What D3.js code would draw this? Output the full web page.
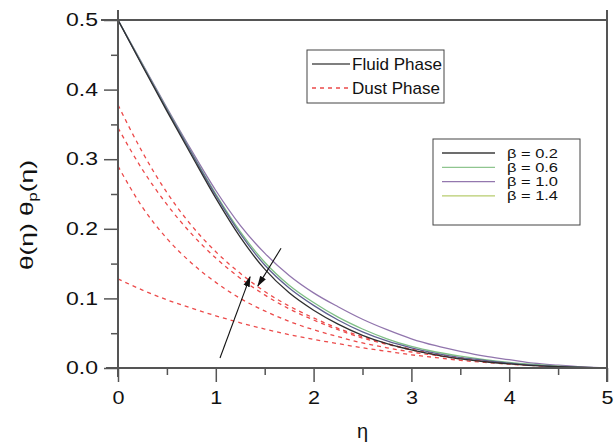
<!DOCTYPE html>
<html><head><meta charset="utf-8">
<script src="https://cdn.jsdelivr.net/npm/d3@7"></script>
<style>body{margin:0;background:#fff}svg{display:block;font-family:"Liberation Sans",Arial,sans-serif}</style>
</head><body>
<svg id="c" width="615" height="445"></svg>
<script>
const eta = [0,0.25,0.5,0.75,1,1.25,1.5,1.75,2,2.25,2.5,2.75,3,3.25,3.5,3.75,4,4.25,4.5,4.75,5];
// Fluid phase curves (solid)
const fluidTop   = [0.5,0.437,0.374,0.313,0.255,0.205,0.165,0.133,0.108,0.088,0.070,0.055,0.042,0.032,0.024,0.017,0.012,0.007,0.004,0.0015,0];
const fluidGreen = [0.5,0.436,0.372,0.310,0.250,0.196,0.152,0.119,0.094,0.073,0.056,0.042,0.031,0.023,0.017,0.012,0.008,0.005,0.0025,0.001,0];
const fluidSlate = [0.5,0.435,0.371,0.309,0.248,0.193,0.148,0.115,0.090,0.069,0.052,0.039,0.029,0.021,0.015,0.011,0.007,0.004,0.002,0.0009,0];
const fluidDark  = [0.5,0.434,0.369,0.306,0.244,0.188,0.142,0.108,0.083,0.063,0.047,0.035,0.026,0.019,0.013,0.009,0.006,0.0035,0.0018,0.0007,0];
// Dust phase curves (dashed)
const dustA = [0.378,0.310,0.252,0.205,0.167,0.136,0.110,0.089,0.072,0.057,0.045,0.035,0.027,0.020,0.015,0.010,0.007,0.004,0.002,0.0008,0];
const dustB = [0.345,0.285,0.235,0.193,0.158,0.129,0.105,0.085,0.069,0.055,0.043,0.034,0.026,0.019,0.014,0.010,0.007,0.004,0.002,0.0008,0];
const dustC = [0.290,0.231,0.186,0.151,0.123,0.100,0.082,0.067,0.055,0.045,0.036,0.029,0.023,0.018,0.013,0.0095,0.0065,0.004,0.0022,0.0009,0];
const dustD = [0.128,0.112,0.098,0.086,0.075,0.065,0.056,0.048,0.041,0.035,0.029,0.024,0.019,0.015,0.011,0.008,0.0055,0.0035,0.002,0.0008,0];

const xTicks = [0,1,2,3,4,5];
const yTicks = [0.0,0.1,0.2,0.3,0.4,0.5];
const betaLabels = ["β = 0.2","β = 0.6","β = 1.0","β = 1.4"];
const betaColors = ["#3c3c3c","#8fc58f","#9377ae","#b7cc6e"];
const phaseLabels = ["Fluid Phase","Dust Phase"];

const fluidSeries = [
  {v: fluidTop, c: "#9175ad"},
  {v: fluidGreen, c: "#7fbf86"},
  {v: fluidSlate, c: "#5e6290"},
  {v: fluidDark, c: "#2f2f2f"}
];
const dustSeries = [dustA, dustB, dustC, dustD];

const svg = d3.select("#c");
const x = d3.scaleLinear().domain([0,5]).range([118,607]);
const y = d3.scaleLinear().domain([0,0.5]).range([368,20]);
const axisColor = "#555";
const FONT = "'Liberation Sans',Arial,sans-serif";

const line = d3.line().x((d,i)=>x(eta[i])).y(d=>y(d)).curve(d3.curveMonotoneX);

// dust curves
svg.append("g").selectAll("path").data(dustSeries).join("path")
  .attr("d", d=>line(d)).attr("fill","none").attr("stroke","#ec4a4a")
  .attr("stroke-width",1.3).attr("stroke-dasharray","4,4");
// fluid curves
svg.append("g").selectAll("path").data(fluidSeries).join("path")
  .attr("d", d=>line(d.v)).attr("fill","none").attr("stroke",d=>d.c).attr("stroke-width",1.3);

// axes
const xAxis = d3.axisBottom(x).tickValues(xTicks).tickSize(14).tickPadding(9).tickFormat(d3.format("d"));
const gx = svg.append("g").attr("transform","translate(0,368)").call(xAxis);
const xMinor = d3.axisBottom(x).tickValues([0.5,1.5,2.5,3.5,4.5]).tickSize(7).tickFormat("");
const gxm = svg.append("g").attr("transform","translate(0,368)").call(xMinor);
const yAxis = d3.axisLeft(y).tickValues(yTicks).tickSize(14).tickPadding(6).tickFormat(d3.format(".1f"));
const gy = svg.append("g").attr("transform","translate(118,0)").call(yAxis);
const yMinor = d3.axisLeft(y).tickValues([0.05,0.15,0.25,0.35,0.45]).tickSize(7).tickFormat("");
const gym = svg.append("g").attr("transform","translate(118,0)").call(yMinor);
[gx,gxm,gy,gym].forEach(g=>{
  g.select(".domain").remove();
  g.selectAll("line").attr("stroke",axisColor).attr("stroke-width",1.5);
  g.selectAll("text").attr("fill","#111").style("font-size","18px").style("font-family",FONT);
});
gy.selectAll("text").attr("textLength",32).attr("lengthAdjust","spacingAndGlyphs");
gx.selectAll("text").attr("textLength",12).attr("lengthAdjust","spacingAndGlyphs");

// axis lines and frame
const fr = svg.append("g").attr("stroke",axisColor).attr("stroke-width",2).attr("fill","none");
fr.append("line").attr("x1",106).attr("x2",607).attr("y1",y(0)).attr("y2",y(0));
fr.append("line").attr("x1",118).attr("x2",118).attr("y1",10).attr("y2",377);
fr.append("line").attr("x1",101).attr("x2",607).attr("y1",y(0.5)).attr("y2",y(0.5));
fr.append("line").attr("x1",607).attr("x2",607).attr("y1",10).attr("y2",382);

// axis titles
svg.append("text").attr("x",x(2.5)).attr("y",438).attr("text-anchor","middle")
  .style("font-size","20px").attr("fill","#111").text("η");
const yl = svg.append("text").attr("transform","translate(33,215) rotate(-90)")
  .attr("text-anchor","middle").style("font-size","19px").attr("fill","#111")
  .attr("textLength",110).attr("lengthAdjust","spacingAndGlyphs");
yl.append("tspan").text("θ(η) θ");
yl.append("tspan").attr("dy",4).style("font-size","12px").text("p");
yl.append("tspan").attr("dy",-4).text("(η)");

// arrows
const defs = svg.append("defs");
defs.append("marker").attr("id","ah").attr("viewBox","0 0 10 10").attr("refX",9).attr("refY",5)
  .attr("markerWidth",10).attr("markerHeight",10).attr("orient","auto")
  .append("path").attr("d","M0,2 L10,5 L0,8 Z").attr("fill","#111");
const arrows = [
  {x1:1.043,y1:0.0144,x2:1.35,y2:0.131},
  {x1:1.667,y1:0.172,x2:1.43,y2:0.118}
];
svg.append("g").selectAll("line").data(arrows).join("line")
  .attr("x1",d=>x(d.x1)).attr("y1",d=>y(d.y1)).attr("x2",d=>x(d.x2)).attr("y2",d=>y(d.y2))
  .attr("stroke","#111").attr("stroke-width",1.1).attr("marker-end","url(#ah)");

// legend 1
const l1 = svg.append("g");
l1.append("rect").attr("x",307).attr("y",50).attr("width",137).attr("height",53)
  .attr("fill","#fff").attr("stroke","#444").attr("stroke-width",1);
l1.append("line").attr("x1",312).attr("x2",350).attr("y1",64).attr("y2",64).attr("stroke","#555").attr("stroke-width",1.3);
l1.append("line").attr("x1",312).attr("x2",350).attr("y1",88).attr("y2",88).attr("stroke","#ec4a4a").attr("stroke-width",1.3).attr("stroke-dasharray","4,4");
l1.selectAll("text").data(phaseLabels).join("text").attr("x",352).attr("y",(d,i)=>70+i*24)
  .style("font-size","17px").attr("fill","#111")
  .attr("textLength",(d,i)=>i===0?90:88).attr("lengthAdjust","spacingAndGlyphs").text(d=>d);

// legend 2
const l2 = svg.append("g");
l2.append("rect").attr("x",433).attr("y",139).attr("width",147).attr("height",86)
  .attr("fill","#fff").attr("stroke","#444").attr("stroke-width",1);
l2.selectAll("line").data(betaLabels).join("line").attr("x1",442).attr("x2",495)
  .attr("y1",(d,i)=>153+i*14.3).attr("y2",(d,i)=>153+i*14.3)
  .attr("stroke",(d,i)=>betaColors[i]).attr("stroke-width",1.3);
l2.selectAll("text").data(betaLabels).join("text").attr("x",507).attr("y",(d,i)=>157.5+i*14.3)
  .style("font-size","12.5px").attr("fill","#111")
  .attr("textLength",51).attr("lengthAdjust","spacingAndGlyphs").text(d=>d);
</script>
</body></html>
